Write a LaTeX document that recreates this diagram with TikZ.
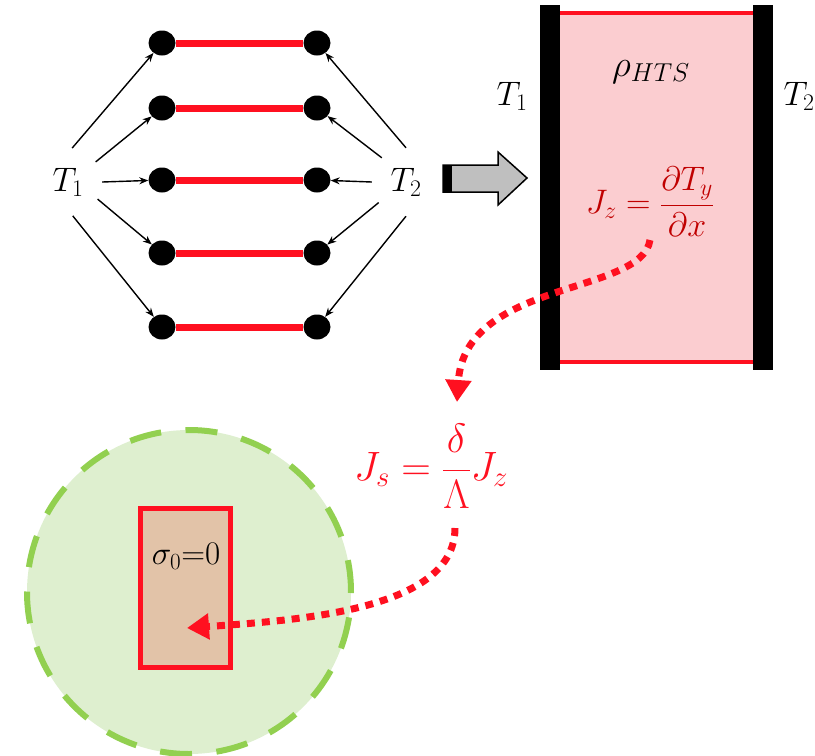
\RequirePackage{fix-cm}
\documentclass[tikz,border=0pt]{standalone}
\usetikzlibrary{arrows.meta,shapes.geometric}
\definecolor{myred}{RGB}{255,16,32}
\definecolor{darkred}{RGB}{192,0,0}
\definecolor{pinkfill}{RGB}{251,205,208}
\definecolor{greenfill}{RGB}{222,239,207}
\definecolor{greenline}{RGB}{146,208,80}
\definecolor{tanfill}{RGB}{226,195,168}
\definecolor{arrowgray}{RGB}{191,191,191}
\begin{document}
\begin{tikzpicture}[x=1pt,y=-1pt,
 dot/.style={ellipse,fill=black,minimum width=27pt,minimum height=25pt,inner sep=0pt},
 link/.style={myred,line width=7pt},
 feed/.style={-{Stealth[length=9pt,width=7pt]},line width=1.4pt},
 tlab/.style={circle,minimum size=68pt,inner sep=0pt,font=\fontsize{34}{40}\selectfont},
 lbl/.style={inner sep=0pt,font=\fontsize{34}{40}\selectfont},
 redpath/.style={myred,line width=7pt,dash pattern=on 8pt off 7pt,-{Triangle[length=22pt,width=25pt]}},
]
\useasboundingbox (0,0) rectangle (815,756);

% left network
\foreach \i/\y in {1/43,2/108,3/180,4/253,5/327}{
  \node[dot] (l\i) at (162,\y) {};
  \node[dot] (r\i) at (317,\y) {};
  \draw[link] (l\i) -- (r\i);
}
\node[tlab] (T1) at (68,182) {$T_1$};
\node[tlab] (T2) at (406,182) {$T_2$};
\draw[feed] (T1.83) -- (l1);
\draw[feed] (T1.36) -- (l2);
\draw[feed] (T1.0) -- (l3);
\draw[feed] (T1.-30) -- (l4);
\draw[feed] (T1.-82) -- (l5);
\draw[feed] (T2.90) -- (r1);
\draw[feed] (T2.135) -- (r2);
\draw[feed] (T2.180) -- (r3);
\draw[feed] (T2.217) -- (r4);
\draw[feed] (T2.270) -- (r5);

% block arrow
\draw[fill=arrowgray,line width=1.5pt,line join=miter]
  (443,165) -- (498,165) -- (498,152) -- (527,178) -- (498,205) -- (498,192) -- (443,192) -- cycle;
\fill[black] (443,165) rectangle (452,192);

% right panel
\fill[pinkfill] (560,11) rectangle (753,364);
\draw[myred,line width=4pt] (560,13) -- (753,13);
\draw[myred,line width=4pt] (560,362) -- (753,362);
\fill[black] (540,5) rectangle (560,370);
\fill[black] (753,5) rectangle (773,370);
\node[lbl,font=\fontsize{37}{44}\selectfont] (rho) at (651,72) {$\rho_{HTS}$};
\node[lbl] (RT1) at (512,96) {$T_1$};
\node[lbl] (RT2) at (799,96) {$T_2$};
\node[lbl,text=darkred,font=\fontsize{34}{40}\selectfont] (Jz) at (650,202) {$\displaystyle J_z=\frac{\partial T_y}{\partial x}$};

% lower part
\node[circle,draw=greenline,fill=greenfill,line width=6pt,dash pattern=on 32pt off 24.5pt,minimum size=324pt,inner sep=0pt] (cell) at (189,592) {};
\node[draw=myred,fill=tanfill,line width=5pt,minimum width=90pt,minimum height=159pt,inner sep=0pt] (core) at (185.5,588) {};
\node[lbl,font=\fontsize{33}{40}\selectfont] (sig) at (186,556) {$\sigma_0{=}0$};
\node[lbl,text=myred,font=\fontsize{41}{48}\selectfont] (Js) at (431,466) {$\displaystyle J_s=\frac{\delta}{\Lambda}J_z$};

\coordinate (s1) at (650,240);
\coordinate (e1) at (457,402);
\coordinate (s2) at (455,528);
\coordinate (e2) at (187,628);
\draw[redpath] (s1) .. controls (642,295) and (465,280) .. (e1);
\draw[redpath] (s2) .. controls (455,610) and (300,620) .. (e2);
\end{tikzpicture}
\end{document}
